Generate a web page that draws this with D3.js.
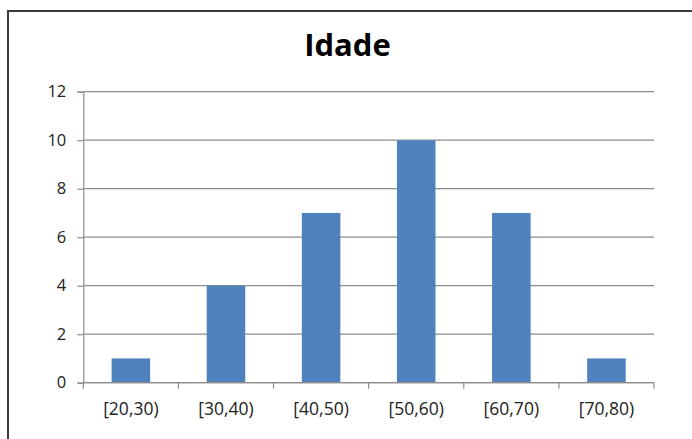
<!DOCTYPE html>
<html>
<head>
<meta charset="utf-8">
<script src="https://cdn.jsdelivr.net/npm/d3@7"></script>
<style>
  html, body { margin: 0; padding: 0; background: #fff; }
  svg { display: block; }
</style>
</head>
<body>
<svg id="chart" width="692" height="439"></svg>
<script>
const title = "Idade";
const categories = ["[20,30)", "[30,40)", "[40,50)", "[50,60)", "[60,70)", "[70,80)"];
const values = [1, 4, 7, 10, 7, 1];
const yTicks = [0, 2, 4, 6, 8, 10, 12];

const svg = d3.select("#chart");
const font = "'Open Sans', 'Noto Sans', sans-serif";

// chart border
svg.append("rect")
  .attr("x", 8).attr("y", 11)
  .attr("width", 720).attr("height", 460)
  .attr("fill", "#fff")
  .attr("stroke", "#3a3a3a")
  .attr("stroke-width", 2);

const plotLeft = 83.3, plotRight = 654, plotTop = 91.7, plotBottom = 382.7;

const x = d3.scaleBand().domain(categories).range([plotLeft, plotRight]).padding(0);
const y = d3.scaleLinear().domain([0, 12]).range([plotBottom, plotTop]);

// gridlines
svg.append("g")
  .selectAll("line")
  .data(yTicks)
  .join("line")
  .attr("x1", plotLeft).attr("x2", plotRight)
  .attr("y1", d => y(d)).attr("y2", d => y(d))
  .attr("stroke", "#8c8c8c")
  .attr("stroke-width", 1.2);

// y axis
const yAxis = svg.append("g")
  .attr("transform", `translate(${plotLeft},0)`)
  .call(d3.axisLeft(y).tickValues(yTicks).tickSize(6).tickPadding(11));
yAxis.select(".domain").attr("stroke", "#8c8c8c").attr("stroke-width", 1.2);
yAxis.selectAll(".tick line").attr("stroke", "#8c8c8c").attr("stroke-width", 1.2);
yAxis.selectAll(".tick text")
  .attr("font-family", font).attr("font-size", 16.5).attr("fill", "#222");

// bars
const barFrac = 0.405;
svg.append("g")
  .selectAll("rect")
  .data(values)
  .join("rect")
  .attr("x", (d, i) => x(categories[i]) + x.bandwidth() * (1 - barFrac) / 2)
  .attr("width", x.bandwidth() * barFrac)
  .attr("y", d => y(d))
  .attr("height", d => y(0) - y(d))
  .attr("fill", "#4f81bd");

// x axis
const xAxis = svg.append("g")
  .attr("transform", `translate(0,${plotBottom})`)
  .call(d3.axisBottom(x).tickSize(0).tickPadding(20));
xAxis.select(".domain").remove();
svg.append("line")
  .attr("x1", plotLeft).attr("x2", plotRight)
  .attr("y1", plotBottom).attr("y2", plotBottom)
  .attr("stroke", "#8c8c8c").attr("stroke-width", 1.2);
// boundary ticks
const bounds = categories.map(c => x(c)).concat([x(categories[categories.length - 1]) + x.bandwidth()]);
svg.append("g").selectAll("line")
  .data(bounds)
  .join("line")
  .attr("x1", d => d).attr("x2", d => d)
  .attr("y1", plotBottom).attr("y2", plotBottom + 6)
  .attr("stroke", "#8c8c8c").attr("stroke-width", 1.2);
xAxis.selectAll(".tick text")
  .attr("font-family", font).attr("font-size", 17.5).attr("fill", "#222");

// title
svg.append("text")
  .attr("x", 347.5).attr("y", 56)
  .attr("text-anchor", "middle")
  .attr("font-family", font)
  .attr("font-weight", "bold")
  .attr("font-size", 31)
  .attr("fill", "#000")
  .text(title);
</script>
</body>
</html>
